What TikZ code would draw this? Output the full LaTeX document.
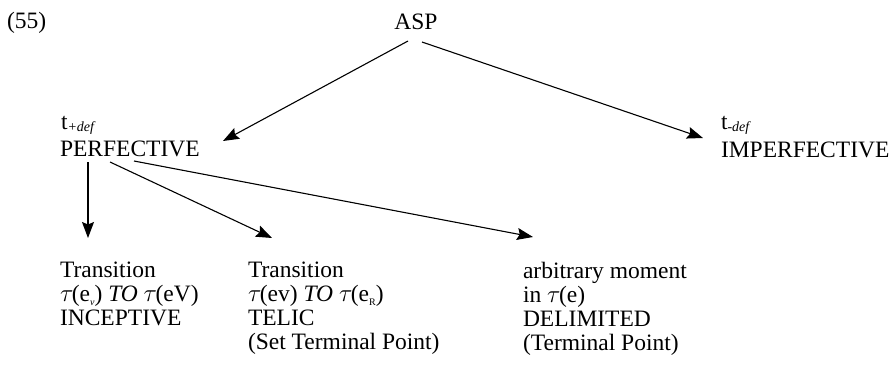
\documentclass[tikz,border=0pt]{standalone}
\usepackage{fontspec}
\setmainfont{Liberation Serif}
\usetikzlibrary{arrows.meta}
\newcommand{\tsub}[1]{\raisebox{-0.25ex}{\fontsize{14}{14}\selectfont\itshape #1}}
\newcommand{\esub}[1]{\raisebox{-0.35ex}{\fontsize{10}{10}\selectfont #1}}
\newcommand{\tauit}{$\tau$\kern-1.5pt}
\begin{document}
\begin{tikzpicture}[x=1pt,y=-1pt,
  every node/.style={inner sep=0pt, outer sep=0pt, font=\fontsize{23.5}{24}\selectfont},
  arr/.style={-{Stealth[length=16pt,width=12pt,inset=2.5pt]}, line width=1.1pt}]
\useasboundingbox (0,0) rectangle (892,378);
\node[anchor=base west] (num) at (7,28) {(55)};
\node[anchor=base] (asp) at (416,29) {ASP};
\node[anchor=base west] (tplus) at (61,129) {t\tsub{+def}};
\node[anchor=base west] (perf) at (60,156) {PERFECTIVE};
\node[anchor=base west] (tminus) at (721,129) {t\tsub{-def}};
\node[anchor=base west] (imperf) at (721,157) {IMPERFECTIVE};
\node[anchor=north west, align=left] (inc) at (60,262) {Transition\\ \tauit(e\esub{\itshape v}) \textit{TO} \tauit(eV)\\ INCEPTIVE};
\node[anchor=north west, align=left] (tel) at (248,262) {Transition\\ \tauit(ev) \textit{TO} \tauit(e\esub{R})\\ TELIC\\ (Set Terminal Point)};
\node[anchor=north west, align=left] (del) at (523,262) {arbitrary moment\\ in \tauit(e)\\ DELIMITED\\ (Terminal Point)};
\coordinate (aspL) at (408,41);
\coordinate (aspR) at (422,42);
\coordinate (perfIn) at (223,141);
\coordinate (imperfIn) at (703,138);
\coordinate (p1) at (88,162);
\coordinate (p2) at (110,162);
\coordinate (p3) at (134,161);
\coordinate (incIn) at (88,238);
\coordinate (telIn) at (272,238);
\coordinate (delIn) at (533,237);
\draw[arr] (aspL) -- (perfIn);
\draw[arr] (aspR) -- (imperfIn);
\draw[arr] (p1) -- (incIn);
\draw[arr] (p2) -- (telIn);
\draw[arr] (p3) -- (delIn);
\end{tikzpicture}
\end{document}
